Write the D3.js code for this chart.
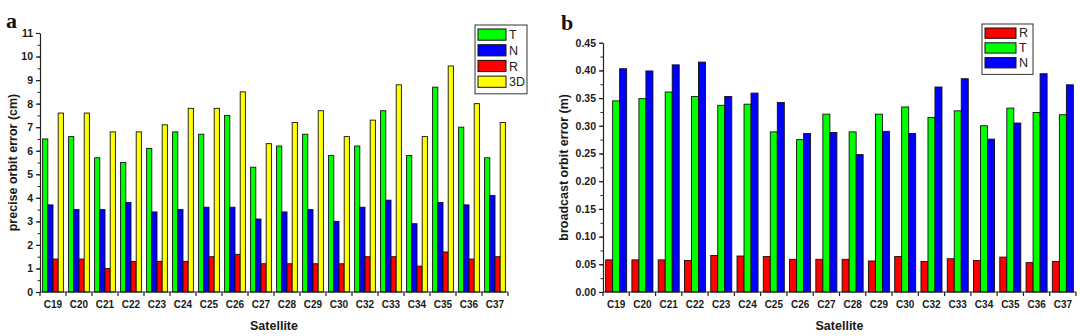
<!DOCTYPE html>
<html>
<head>
<meta charset="utf-8">
<script src="https://cdn.jsdelivr.net/npm/d3@7"></script>
<style>
  body { margin: 0; background: #fff; }
  svg text { font-family: "Liberation Sans", Arial, sans-serif; }
</style>
</head>
<body>
<div id="vis"></div>
<script>
const FRAME_WIDTH = 1080;
const FRAME_HEIGHT = 336;

// satellites on the x axis (both panels)
const satellites = ["C19", "C20", "C21", "C22", "C23", "C24", "C25", "C26", "C27",
                    "C28", "C29", "C30", "C32", "C33", "C34", "C35", "C36", "C37"];

// panel a: precise orbit error (cm)
const preciseT  = [6.5, 6.6, 5.7, 5.5, 6.1, 6.8, 6.7, 7.5, 5.3, 6.2, 6.7, 5.8, 6.2, 7.7, 5.8, 8.7, 7.0, 5.7];
const preciseN  = [3.7, 3.5, 3.5, 3.8, 3.4, 3.5, 3.6, 3.6, 3.1, 3.4, 3.5, 3.0, 3.6, 3.9, 2.9, 3.8, 3.7, 4.1];
const preciseR  = [1.4, 1.4, 1.0, 1.3, 1.3, 1.3, 1.5, 1.6, 1.2, 1.2, 1.2, 1.2, 1.5, 1.5, 1.1, 1.7, 1.4, 1.5];
const precise3D = [7.6, 7.6, 6.8, 6.8, 7.1, 7.8, 7.8, 8.5, 6.3, 7.2, 7.7, 6.6, 7.3, 8.8, 6.6, 9.6, 8.0, 7.2];
const preciseTicks = [0, 1, 2, 3, 4, 5, 6, 7, 8, 9, 10, 11];

// panel b: broadcast orbit error (m)
const broadcastR = [0.058, 0.058, 0.058, 0.057, 0.066, 0.065, 0.064, 0.059, 0.059,
                    0.059, 0.056, 0.064, 0.055, 0.060, 0.057, 0.063, 0.053, 0.055];
const broadcastT = [0.345, 0.349, 0.361, 0.353, 0.337, 0.339, 0.289, 0.275, 0.321,
                    0.289, 0.321, 0.334, 0.315, 0.327, 0.300, 0.332, 0.324, 0.320];
const broadcastN = [0.403, 0.399, 0.410, 0.415, 0.353, 0.359, 0.342, 0.286, 0.288,
                    0.248, 0.290, 0.286, 0.370, 0.385, 0.276, 0.305, 0.394, 0.374];
const broadcastTicks = [0, 0.05, 0.10, 0.15, 0.20, 0.25, 0.30, 0.35, 0.40, 0.45];

const COLORS = {T: "#00ff00", N: "#0000ff", R: "#ff0000", "3D": "#ffff00"};

const svg = d3.select("#vis")
  .append("svg")
    .attr("width", FRAME_WIDTH)
    .attr("height", FRAME_HEIGHT);

// draws one grouped bar panel
function drawPanel(cfg) {
  const g = svg.append("g");

  const X = d3.scaleBand()
    .domain(satellites)
    .range([cfg.left, cfg.right])
    .paddingInner(0.2)
    .paddingOuter(0.1);

  const INNER = d3.scaleBand()
    .domain(cfg.series.map(s => s.key))
    .range([0, X.bandwidth()]);

  const Y = d3.scaleLinear()
    .domain(cfg.domain)
    .range([cfg.bottom, cfg.top]);

  // bars
  cfg.series.forEach(s => {
    g.selectAll(null)
      .data(s.values)
      .enter()
      .append("rect")
        .attr("x", (d, i) => X(satellites[i]) + INNER(s.key))
        .attr("y", d => Y(d))
        .attr("width", INNER.bandwidth())
        .attr("height", d => Y(0) - Y(d))
        .attr("fill", COLORS[s.key])
        .attr("stroke", "#111")
        .attr("stroke-width", 0.9);
  });

  // minor y ticks
  const minor = d3.range(cfg.domain[0], cfg.domain[1] + cfg.minorStep / 2, cfg.minorStep);
  g.append("g")
    .attr("transform", "translate(" + cfg.left + ",0)")
    .call(d3.axisLeft(Y).tickValues(minor).tickSize(2.5).tickFormat(""))
    .call(a => a.select(".domain").remove())
    .selectAll("line").attr("stroke", "#222");

  // major y axis
  const yAxis = g.append("g")
    .attr("transform", "translate(" + cfg.left + ",0)")
    .call(d3.axisLeft(Y).tickValues(cfg.ticks).tickSize(4).tickSizeOuter(0)
      .tickPadding(3).tickFormat(cfg.format));
  yAxis.selectAll("path, line").attr("stroke", "#222").attr("stroke-width", 1.2);
  yAxis.selectAll("text")
    .attr("font-size", "10.5px").attr("font-weight", "bold").attr("fill", "#1a1a1a");

  // x axis: labels under groups, ticks at group boundaries
  const xAxis = g.append("g")
    .attr("transform", "translate(0," + cfg.bottom + ")")
    .call(d3.axisBottom(X).tickSize(0).tickPadding(9).tickSizeOuter(0));
  xAxis.select(".domain")
    .attr("d", "M" + cfg.left + ",0H" + cfg.right)
    .attr("stroke", "#222").attr("stroke-width", 1.2);
  xAxis.selectAll("text")
    .attr("font-size", "10px").attr("font-weight", "bold").attr("fill", "#1a1a1a");
  g.append("g")
    .selectAll("line")
    .data(d3.range(satellites.length + 1))
    .enter()
    .append("line")
      .attr("x1", i => cfg.left + i * X.step())
      .attr("x2", i => cfg.left + i * X.step())
      .attr("y1", cfg.bottom)
      .attr("y2", cfg.bottom + 4)
      .attr("stroke", "#222")
      .attr("stroke-width", 1.2);

  // axis titles
  g.append("text")
    .attr("transform", "translate(" + cfg.yTitleX + "," + ((cfg.top + cfg.bottom) / 2) + ") rotate(-90)")
    .attr("text-anchor", "middle")
    .attr("font-size", "12.5px").attr("font-weight", "bold").attr("fill", "#1a1a1a")
    .text(cfg.yTitle);

  g.append("text")
    .attr("x", (cfg.left + cfg.right) / 2)
    .attr("y", 330)
    .attr("text-anchor", "middle")
    .attr("font-size", "12.5px").attr("font-weight", "bold").attr("fill", "#1a1a1a")
    .text("Satellite");

  // panel letter
  g.append("text")
    .attr("x", cfg.letterX)
    .attr("y", cfg.letterY)
    .style("font-family", "'Liberation Serif', 'Times New Roman', serif")
    .attr("font-size", "22px").attr("font-weight", "bold").attr("fill", "#111")
    .text(cfg.letter);

  // legend
  const L = cfg.legend;
  g.append("rect")
    .attr("x", L.x).attr("y", L.y)
    .attr("width", L.w).attr("height", L.rowH * cfg.legendOrder.length + 6)
    .attr("fill", "#fff").attr("stroke", "#333").attr("stroke-width", 1);
  const rows = g.selectAll(null)
    .data(cfg.legendOrder)
    .enter()
    .append("g")
      .attr("transform", (d, i) => "translate(" + (L.x + 3) + "," + (L.y + 4 + i * L.rowH) + ")");
  rows.append("rect")
    .attr("width", L.sw).attr("height", L.rowH - 4.5)
    .attr("fill", d => COLORS[d]).attr("stroke", "#111").attr("stroke-width", 1);
  rows.append("text")
    .attr("x", L.sw + 3).attr("y", L.rowH - 5.5)
    .attr("font-size", "12.5px").attr("fill", "#222")
    .text(d => d);
}

drawPanel({
  left: 40, right: 508, top: 33, bottom: 292,
  domain: [0, 11], ticks: preciseTicks, minorStep: 0.5, format: d3.format("d"),
  series: [
    {key: "T", values: preciseT},
    {key: "N", values: preciseN},
    {key: "R", values: preciseR},
    {key: "3D", values: precise3D}
  ],
  legendOrder: ["T", "N", "R", "3D"],
  legend: {x: 475, y: 25, w: 52, sw: 28, rowH: 15.7},
  yTitle: "precise orbit error (cm)", yTitleX: 17,
  letter: "a", letterX: 6, letterY: 28
});

drawPanel({
  left: 603, right: 1076, top: 42.7, bottom: 292,
  domain: [0, 0.45], ticks: broadcastTicks, minorStep: 0.025, format: d3.format(".2f"),
  series: [
    {key: "R", values: broadcastR},
    {key: "T", values: broadcastT},
    {key: "N", values: broadcastN}
  ],
  legendOrder: ["R", "T", "N"],
  legend: {x: 982, y: 24, w: 51, sw: 31, rowH: 14.8},
  yTitle: "broadcast orbit error (m)", yTitleX: 568,
  letter: "b", letterX: 561, letterY: 30
});
</script>
</body>
</html>
